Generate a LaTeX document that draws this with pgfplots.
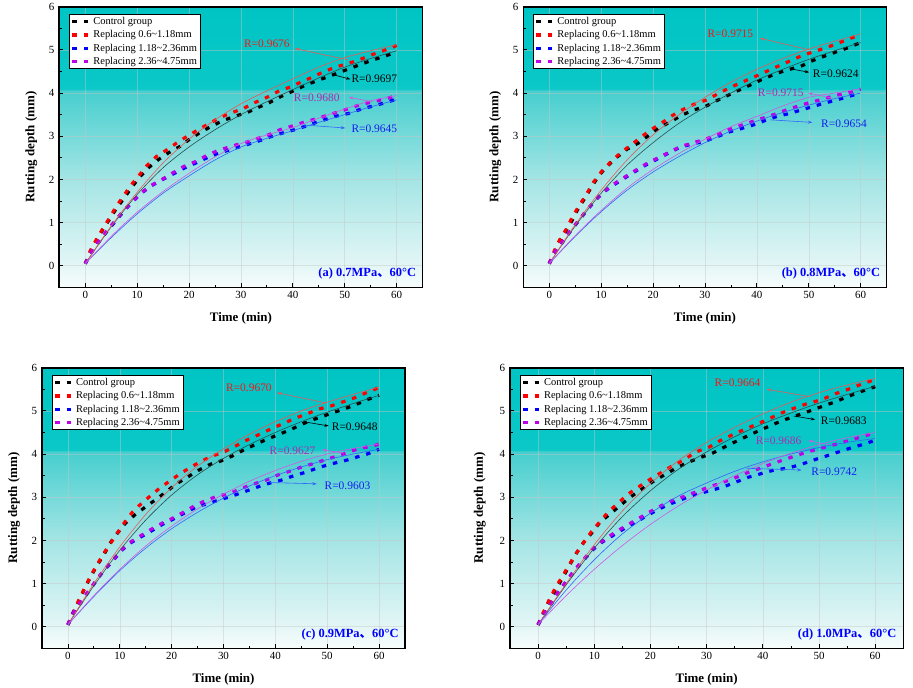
\documentclass[border=0pt]{standalone}
\usepackage{fontspec}
\setmainfont{Liberation Serif}
\newfontfamily\cjk{Noto Sans CJK SC}
\usepackage{pgfplots}
\pgfplotsset{compat=1.18}
\usetikzlibrary{arrows.meta}

\definecolor{bg0}{RGB}{248,253,253}
\definecolor{bg1}{RGB}{228,246,246}
\definecolor{bg2}{RGB}{165,229,229}
\definecolor{bg3}{RGB}{70,206,206}
\definecolor{bg4}{RGB}{12,200,200}
\definecolor{bg5}{RGB}{0,196,196}
\pgfdeclareverticalshading{rutbg}{100bp}{color(0bp)=(bg0); color(25bp)=(bg0); color(28.8bp)=(bg1); color(44.2bp)=(bg2); color(60.1bp)=(bg3); color(60.3bp)=(bg4); color(75bp)=(bg5); color(100bp)=(bg5)}

\definecolor{cred}{RGB}{255,0,0}
\definecolor{cblue}{RGB}{0,0,255}
\definecolor{cpur}{RGB}{190,0,230}
\definecolor{fred}{RGB}{230,90,90}
\definecolor{fblue}{RGB}{50,100,250}
\definecolor{fpur}{RGB}{205,90,225}
\definecolor{fblk}{RGB}{40,80,80}
\definecolor{tred}{RGB}{250,20,20}
\definecolor{tpur}{RGB}{175,40,175}
\definecolor{tblue}{RGB}{20,30,240}

\tikzset{
  rtxt/.style={inner sep=0pt, font=\fontsize{11.5}{13}\selectfont},
  arr/.style={-{Stealth[length=4.5bp,width=3bp]}, line width=0.6bp},
  plab/.style={anchor=east, inner sep=0pt, font=\fontsize{12.5}{14}\selectfont\bfseries, text=blue},
}

\pgfplotsset{
  rut/.style={
    scale only axis, height=280.6bp,
    xmin=-5, xmax=65, ymin=-0.5, ymax=6,
    xtick={0,10,...,60}, ytick={0,1,...,6},
    minor x tick num=1, minor y tick num=1,
    tick align=inside, tick pos=left,
    major tick length=4bp, minor tick length=2.5bp,
    every tick/.style={black, line width=0.8bp},
    axis line style={line width=1.6bp},
    axis background/.style={shade, shading=rutbg},
    grid=major, major grid style={gray!45, line width=0.5bp, opacity=0.45},
    /pgf/number format/assume math mode=true,
    tick label style={font=\fontsize{11}{13}\selectfont},
    yticklabel style={xshift=-1.5bp},
    xlabel={Time (min)}, ylabel={Rutting depth (mm)},
    label style={font=\fontsize{13}{15}\selectfont\bfseries},
    xlabel style={at={(axis description cs:0.5,-0.11)}, anchor=center},
    ylabel style={at={(axis description cs:-0.077,0.5)}, anchor=center},
    legend cell align=left,
    legend style={at={(0,1)}, anchor=north west, xshift=9.5bp, yshift=-7.3bp,
      draw=black, line width=0.8bp, fill=white,
      font=\fontsize{10.5}{12}\selectfont, inner xsep=1.5bp, inner ysep=1bp, row sep=0.5bp},
    legend image code/.code={\draw[#1] (0bp,0bp) -- (17.5bp,0bp);},
  },
  dat/.style={line width=3.2bp, dash pattern=on 4.5bp off 7bp, line cap=butt},
  dblk/.style={dat, black},
  dred/.style={dat, cred},
  dblu/.style={dat, cblue},
  dpur/.style={dat, cpur},
  fit/.style={line width=0.6bp, smooth, forget plot},
}

\begin{document}
\begin{tikzpicture}
\path[use as bounding box, fill=white] (0,0) rectangle (913bp,-688bp);

% ---------------- (a)
\begin{axis}[rut, width=363.3bp, at={(59.3bp,-287.3bp)}, anchor=south west]
\addplot[dblk] coordinates {(0,0.05)(1,0.3)(2.2,0.6)(3.4,0.84)(4.8,1.1)(5.9,1.31)(7.4,1.55)(8.8,1.79)(10.3,2.03)(12.1,2.26)(14,2.45)(16.1,2.62)(18.2,2.76)(20.1,2.93)(22.2,3.09)(24.3,3.23)(26.5,3.36)(28.8,3.46)(31.2,3.55)(33.4,3.67)(35.5,3.78)(37.7,3.92)(40.1,4.05)(42.2,4.17)(44.5,4.28)(46.6,4.37)(48.6,4.46)(51,4.57)(53.2,4.67)(55.5,4.77)(57.9,4.86)(60,4.96)};
\addplot[dred] coordinates {(0,0.05)(0.9,0.33)(2.2,0.62)(3.5,0.88)(4.8,1.13)(5.9,1.36)(7.3,1.6)(8.7,1.85)(10.3,2.08)(11.8,2.31)(13.7,2.53)(15.8,2.69)(17.7,2.85)(19.8,3.01)(21.9,3.16)(24,3.3)(26.1,3.44)(28.4,3.55)(30.6,3.65)(32.7,3.78)(35,3.9)(37.2,4.04)(39.5,4.14)(41.7,4.26)(43.8,4.37)(45.9,4.49)(48.2,4.6)(50.8,4.69)(53,4.78)(55.5,4.9)(57.9,5.0)(60,5.1)};
\addplot[dblu] coordinates {(0,0.05)(1.1,0.29)(2.5,0.53)(4.1,0.78)(5.6,1.0)(7.2,1.23)(9,1.47)(10.8,1.68)(12.7,1.85)(14.8,1.99)(17,2.13)(19.4,2.28)(21.5,2.39)(23.8,2.52)(26.1,2.62)(28.5,2.71)(31,2.8)(33.2,2.88)(35.5,2.98)(37.9,3.07)(40.3,3.15)(42.7,3.24)(45,3.34)(47.2,3.42)(48.2,3.46)(50.8,3.53)(53.2,3.63)(55.5,3.7)(57.9,3.78)(60,3.86)};
\addplot[dpur] coordinates {(0,0.05)(1.1,0.3)(2.5,0.55)(4.1,0.8)(5.6,1.02)(7.2,1.25)(9,1.48)(10.8,1.69)(12.7,1.86)(14.8,2.0)(17,2.16)(19,2.3)(21.4,2.42)(23.5,2.56)(25.6,2.67)(28.5,2.78)(31,2.86)(33,2.94)(35.5,3.04)(37.5,3.15)(40,3.24)(42,3.32)(45,3.42)(47,3.5)(49,3.57)(51,3.65)(53,3.73)(55.5,3.8)(58,3.87)(60,3.94)};
\legend{Control group, Replacing 0.6\textasciitilde 1.18mm, Replacing 1.18\textasciitilde 2.36mm, Replacing 2.36\textasciitilde 4.75mm}
\addplot[fit, fblk] coordinates {(0,0.05)(5,0.9)(10,1.65)(15,2.27)(20,2.75)(25,3.15)(30,3.5)(35,3.8)(40,4.08)(45,4.35)(50,4.6)(55,4.8)(60,4.98)};
\addplot[fit, fred] coordinates {(0,0.05)(5,0.92)(10,1.7)(15,2.38)(20,2.93)(25,3.38)(30,3.75)(35,4.05)(40,4.33)(45,4.6)(50,4.82)(55,4.98)(60,5.12)};
\addplot[fit, fblue] coordinates {(0,0.05)(5,0.65)(10,1.2)(15,1.68)(20,2.08)(25,2.45)(30,2.75)(35,2.95)(40,3.13)(45,3.32)(50,3.5)(55,3.68)(60,3.84)};
\addplot[fit, fpur] coordinates {(0,0.05)(5,0.68)(10,1.24)(15,1.72)(20,2.14)(25,2.52)(30,2.83)(35,3.03)(40,3.2)(45,3.42)(50,3.63)(55,3.82)(60,3.94)};
\draw[arr, fred] (axis cs:50.6,4.77) -- (axis cs:40.4,5.03);
\node[rtxt, text=tred] at (axis cs:35,5.15) {R=0.9676};
\draw[arr, black] (axis cs:47.9,4.42) -- (axis cs:51.1,4.32);
\node[rtxt, text=black] at (axis cs:55.7,4.32) {R=0.9697};
\draw[arr, fpur] (axis cs:55.3,3.8) -- (axis cs:50.8,3.9);
\node[rtxt, text=tpur] at (axis cs:44.6,3.88) {R=0.9680};
\draw[arr, fblue] (axis cs:42.1,3.26) -- (axis cs:50.1,3.19);
\node[rtxt, text=tblue] at (axis cs:55.7,3.17) {R=0.9645};
\node[plab] at (axis cs:63.8,-0.17) {(a) 0.7MPa{\cjk 、}60°C};
\end{axis}

% ---------------- (b)
\begin{axis}[rut, width=363.3bp, at={(523.3bp,-287.3bp)}, anchor=south west]
\addplot[dblk] coordinates {(0,0.05)(1,0.3)(2.2,0.58)(3.3,0.82)(4.5,1.07)(5.6,1.33)(6.9,1.57)(8.2,1.84)(9.7,2.11)(11.3,2.32)(13.1,2.52)(15,2.7)(17.3,2.85)(19.3,3.03)(21.2,3.2)(23.5,3.34)(25.4,3.48)(27.9,3.61)(30.1,3.69)(32.2,3.82)(34.3,3.94)(36.6,4.07)(38.8,4.19)(40.9,4.31)(43.1,4.42)(45.4,4.52)(47.6,4.59)(48.3,4.61)(50.7,4.75)(52.9,4.85)(55.2,4.95)(57.6,5.05)(60,5.17)};
\addplot[dred] coordinates {(0,0.05)(1,0.35)(2.1,0.62)(3.3,0.85)(4.5,1.14)(5.8,1.4)(7.1,1.64)(8.5,1.93)(10.2,2.2)(11.9,2.41)(13.7,2.61)(15.8,2.8)(17.7,2.98)(19.6,3.15)(21.6,3.3)(23.6,3.47)(25.6,3.61)(27.9,3.74)(30.1,3.83)(32.3,3.97)(34.4,4.1)(36.7,4.23)(38.9,4.34)(41.1,4.46)(43.3,4.58)(45.4,4.69)(47.6,4.81)(48.4,4.85)(50.7,4.95)(53.1,5.04)(55.4,5.14)(57.6,5.25)(60,5.35)};
\addplot[dblu] coordinates {(0,0.05)(1,0.29)(2.6,0.55)(4.2,0.82)(5.6,1.03)(7.1,1.26)(8.7,1.49)(10.4,1.7)(12.4,1.87)(14.5,2.03)(16.5,2.18)(18.7,2.34)(20.8,2.47)(23,2.61)(25.1,2.74)(27.5,2.82)(29.9,2.88)(32.2,2.98)(34.4,3.09)(36.8,3.17)(39.3,3.26)(41.5,3.36)(43.9,3.46)(46.4,3.53)(48.6,3.61)(50.9,3.69)(53.1,3.77)(55.4,3.84)(57.6,3.92)(60,4.0)};
\addplot[dpur] coordinates {(0,0.05)(1,0.3)(2.6,0.57)(4.2,0.83)(5.6,1.04)(7.1,1.27)(8.7,1.5)(10.4,1.71)(12.4,1.89)(14.5,2.05)(16.5,2.2)(18.7,2.36)(20.8,2.49)(23,2.62)(25.1,2.75)(27.7,2.85)(29.9,2.92)(32.2,3.03)(34.4,3.15)(36.7,3.24)(38.9,3.33)(41.2,3.42)(43.5,3.51)(45.7,3.61)(48,3.7)(50.2,3.78)(52.8,3.86)(55,3.94)(57.4,4.0)(60,4.09)};
\legend{Control group, Replacing 0.6\textasciitilde 1.18mm, Replacing 1.18\textasciitilde 2.36mm, Replacing 2.36\textasciitilde 4.75mm}
\addplot[fit, fblk] coordinates {(0,0.05)(5,0.92)(10,1.68)(15,2.33)(20,2.85)(25,3.3)(30,3.67)(35,4.0)(40,4.3)(45,4.55)(50,4.78)(55,4.98)(60,5.17)};
\addplot[fit, fred] coordinates {(0,0.05)(5,0.95)(10,1.75)(15,2.45)(20,3.03)(25,3.5)(30,3.9)(35,4.25)(40,4.55)(45,4.8)(50,5.02)(55,5.2)(60,5.37)};
\addplot[fit, fblue] coordinates {(0,0.05)(5,0.68)(10,1.25)(15,1.75)(20,2.17)(25,2.53)(30,2.85)(35,3.12)(40,3.35)(45,3.55)(50,3.72)(55,3.87)(60,4.0)};
\addplot[fit, fpur] coordinates {(0,0.05)(5,0.7)(10,1.28)(15,1.8)(20,2.23)(25,2.6)(30,2.93)(35,3.22)(40,3.46)(45,3.7)(50,3.9)(55,4.0)(60,4.1)};
\draw[arr, fred] (axis cs:50.2,5.0) -- (axis cs:40.6,5.27);
\node[rtxt, text=tred] at (axis cs:34.9,5.37) {R=0.9715};
\draw[arr, black] (axis cs:47,4.55) -- (axis cs:50.1,4.48);
\node[rtxt, text=black] at (axis cs:55.2,4.44) {R=0.9624};
\draw[arr, fpur] (axis cs:54.7,3.88) -- (axis cs:49.9,4.0);
\node[rtxt, text=tpur] at (axis cs:44.6,4.0) {R=0.9715};
\draw[arr, fblue] (axis cs:42.5,3.38) -- (axis cs:50.7,3.32);
\node[rtxt, text=tblue] at (axis cs:56.8,3.29) {R=0.9654};
\node[plab] at (axis cs:63.8,-0.17) {(b) 0.8MPa{\cjk 、}60°C};
\end{axis}

% ---------------- (c)
\begin{axis}[rut, width=363bp, at={(42bp,-648.3bp)}, anchor=south west]
\addplot[dblk] coordinates {(0,0.04)(1,0.33)(2.2,0.62)(3.2,0.88)(4.3,1.14)(5.5,1.4)(6.9,1.66)(8.1,1.93)(9.5,2.16)(11.1,2.4)(12.9,2.59)(15,2.78)(17,2.95)(19,3.13)(20.9,3.31)(23,3.46)(25.1,3.62)(27.4,3.76)(29.5,3.84)(31.8,3.96)(34,4.1)(36.3,4.23)(38.5,4.35)(40.8,4.46)(43,4.57)(45.3,4.7)(47.6,4.81)(48.6,4.85)(50.9,4.95)(53.2,5.04)(55.4,5.14)(57.7,5.26)(60,5.36)};
\addplot[dred] coordinates {(0,0.05)(1,0.32)(2.1,0.62)(3.2,0.89)(4.3,1.16)(5.5,1.41)(6.8,1.68)(8.2,1.93)(9.7,2.2)(11,2.43)(12.4,2.65)(14.2,2.86)(15.9,3.03)(17.7,3.21)(19.7,3.38)(21.6,3.54)(23.6,3.69)(25.8,3.84)(28,3.96)(30.3,4.06)(32.4,4.19)(34.6,4.33)(37,4.46)(39.3,4.59)(41.6,4.71)(43.8,4.83)(46.1,4.93)(48.3,5.04)(50.9,5.12)(53.3,5.22)(55.7,5.32)(57.7,5.43)(60,5.54)};
\addplot[dblu] coordinates {(0,0.05)(1,0.31)(2.4,0.54)(3.9,0.8)(5.5,1.07)(6.9,1.3)(8.6,1.51)(10.1,1.74)(11.9,1.93)(14.2,2.09)(16.1,2.22)(18.2,2.37)(20.3,2.49)(22.4,2.63)(24.7,2.77)(27.1,2.86)(29.3,2.94)(31.7,3.03)(34.1,3.13)(36.4,3.23)(38.7,3.32)(41,3.39)(43.4,3.49)(45.6,3.57)(48,3.67)(49,3.71)(51.4,3.79)(53.8,3.86)(55.7,3.93)(57.7,4.0)(60,4.11)};
\addplot[dpur] coordinates {(0,0.05)(1,0.32)(2.4,0.56)(3.9,0.82)(5.5,1.08)(6.9,1.31)(8.6,1.53)(10.1,1.75)(11.9,1.95)(14.2,2.12)(16.1,2.26)(18.2,2.4)(20.3,2.52)(22.4,2.66)(24.4,2.8)(26.5,2.92)(28.5,3.01)(31.3,3.09)(33.6,3.21)(35.9,3.31)(38.3,3.4)(40.6,3.52)(43,3.61)(45.3,3.71)(47.7,3.79)(49.9,3.88)(52.2,3.96)(54.4,4.06)(56.7,4.14)(59,4.19)(60,4.23)};
\legend{Control group, Replacing 0.6\textasciitilde 1.18mm, Replacing 1.18\textasciitilde 2.36mm, Replacing 2.36\textasciitilde 4.75mm}
\addplot[fit, fblk] coordinates {(0,0.05)(5,0.95)(10,1.77)(15,2.47)(20,3.05)(25,3.52)(30,3.9)(35,4.22)(40,4.5)(45,4.75)(50,4.97)(55,5.17)(60,5.36)};
\addplot[fit, fred] coordinates {(0,0.05)(5,1.0)(10,1.85)(15,2.6)(20,3.22)(25,3.72)(30,4.12)(35,4.46)(40,4.75)(45,5.0)(50,5.2)(55,5.38)(60,5.55)};
\addplot[fit, fblue] coordinates {(0,0.05)(5,0.7)(10,1.3)(15,1.82)(20,2.27)(25,2.65)(30,2.98)(35,3.26)(40,3.5)(45,3.7)(50,3.87)(55,4.0)(60,4.11)};
\addplot[fit, fpur] coordinates {(0,0.05)(5,0.72)(10,1.33)(15,1.87)(20,2.33)(25,2.73)(30,3.07)(35,3.37)(40,3.62)(45,3.83)(50,4.0)(55,4.13)(60,4.23)};
\draw[arr, fred] (axis cs:49.9,5.18) -- (axis cs:40.3,5.42);
\node[rtxt, text=tred] at (axis cs:34.9,5.54) {R=0.9670};
\draw[arr, black] (axis cs:45.4,4.75) -- (axis cs:50.3,4.65);
\node[rtxt, text=black] at (axis cs:55.3,4.64) {R=0.9648};
\draw[arr, fpur] (axis cs:53.2,4.02) -- (axis cs:49,4.1);
\node[rtxt, text=tpur] at (axis cs:43.3,4.08) {R=0.9627};
\draw[arr, fblue] (axis cs:39,3.34) -- (axis cs:48,3.31);
\node[rtxt, text=tblue] at (axis cs:53.9,3.27) {R=0.9603};
\node[plab] at (axis cs:63.8,-0.17) {(c) 0.9MPa{\cjk 、}60°C};
\end{axis}

% ---------------- (d)
\begin{axis}[rut, width=393.3bp, at={(510bp,-648.3bp)}, anchor=south west]
\addplot[dblk] coordinates {(0,0.04)(1,0.33)(2.1,0.62)(3.3,0.9)(4.5,1.16)(5.6,1.43)(6.8,1.7)(8.1,1.95)(9.6,2.18)(11,2.42)(12.8,2.61)(14.7,2.82)(16.5,3.01)(18.4,3.18)(20.4,3.36)(22.4,3.51)(24.5,3.67)(26.7,3.81)(28.9,3.92)(31.2,4.03)(33.3,4.17)(35.5,4.31)(37.6,4.44)(39.8,4.57)(41.9,4.69)(44,4.8)(46.2,4.9)(48.4,5.0)(50.7,5.11)(52.9,5.21)(55.1,5.33)(57.3,5.44)(60,5.56)};
\addplot[dred] coordinates {(0,0.05)(0.9,0.32)(2,0.63)(3.1,0.91)(4.3,1.16)(5.5,1.43)(6.8,1.7)(8.1,1.95)(9.5,2.2)(11,2.43)(12.5,2.66)(14.3,2.87)(16,3.07)(17.9,3.24)(19.9,3.41)(21.9,3.57)(23.8,3.72)(25.8,3.85)(28.1,4.05)(30.3,4.15)(32.4,4.31)(34.5,4.44)(36.7,4.57)(38.9,4.69)(41,4.81)(43.1,4.94)(45.3,5.05)(47.5,5.15)(48.7,5.19)(51,5.29)(53.2,5.41)(55.4,5.51)(57.6,5.62)(60,5.73)};
\addplot[dblu] coordinates {(0,0.05)(1.2,0.31)(2.4,0.54)(3.7,0.81)(5.2,1.07)(6.5,1.3)(8.1,1.54)(9.7,1.78)(11.5,1.97)(13.4,2.12)(15.4,2.28)(17.5,2.43)(19.6,2.59)(21.7,2.74)(23.8,2.86)(26,2.97)(28.2,3.07)(30.6,3.15)(33,3.24)(35.4,3.36)(37.6,3.47)(39.8,3.55)(42,3.63)(44.3,3.67)(46.6,3.75)(49,3.86)(51.2,3.95)(53.5,4.05)(55.9,4.15)(58,4.23)(60,4.32)};
\addplot[dpur] coordinates {(0,0.05)(1.2,0.32)(2.4,0.56)(3.7,0.83)(5.2,1.09)(6.5,1.32)(8.1,1.56)(9.7,1.8)(11.5,1.99)(13.4,2.16)(15.4,2.32)(17.5,2.48)(19.6,2.64)(21.7,2.79)(23.8,2.92)(25.8,3.01)(28.2,3.13)(30.5,3.24)(32.8,3.34)(35.1,3.45)(37.3,3.57)(39.5,3.67)(41.8,3.78)(44,3.88)(46.3,3.98)(48.5,4.07)(50.8,4.15)(53.1,4.23)(55.3,4.31)(57.6,4.4)(60,4.49)};
\legend{Control group, Replacing 0.6\textasciitilde 1.18mm, Replacing 1.18\textasciitilde 2.36mm, Replacing 2.36\textasciitilde 4.75mm}
\addplot[fit, fblk] coordinates {(0,0.05)(5,0.97)(10,1.82)(15,2.55)(20,3.15)(25,3.65)(30,4.05)(35,4.4)(40,4.7)(45,4.95)(50,5.18)(55,5.38)(60,5.57)};
\addplot[fit, fred] coordinates {(0,0.05)(5,1.0)(10,1.9)(15,2.68)(20,3.32)(25,3.85)(30,4.27)(35,4.62)(40,4.93)(45,5.2)(50,5.42)(55,5.6)(60,5.75)};
\addplot[fit, fblue] coordinates {(0,0.05)(5,0.85)(10,1.55)(15,2.15)(20,2.63)(25,3.03)(30,3.33)(35,3.6)(40,3.82)(45,4.0)(50,4.15)(55,4.27)(60,4.36)};
\addplot[fit, fpur] coordinates {(0,0.05)(5,0.72)(10,1.33)(15,1.88)(20,2.37)(25,2.8)(30,3.17)(35,3.5)(40,3.78)(45,4.02)(50,4.22)(55,4.38)(60,4.5)};
\draw[arr, fred] (axis cs:48.4,5.33) -- (axis cs:40.7,5.5);
\node[rtxt, text=tred] at (axis cs:35.5,5.66) {R=0.9664};
\draw[arr, black] (axis cs:45.5,4.88) -- (axis cs:49.3,4.8);
\node[rtxt, text=black] at (axis cs:54.4,4.77) {R=0.9683};
\draw[arr, fpur] (axis cs:52,4.21) -- (axis cs:48.1,4.31);
\node[rtxt, text=tpur] at (axis cs:42.8,4.31) {R=0.9686};
\draw[arr, fblue] (axis cs:37.1,3.67) -- (axis cs:46.9,3.63);
\node[rtxt, text=tblue] at (axis cs:52.7,3.58) {R=0.9742};
\node[plab] at (axis cs:63.8,-0.17) {(d) 1.0MPa{\cjk 、}60°C};
\end{axis}
\end{tikzpicture}
\end{document}
